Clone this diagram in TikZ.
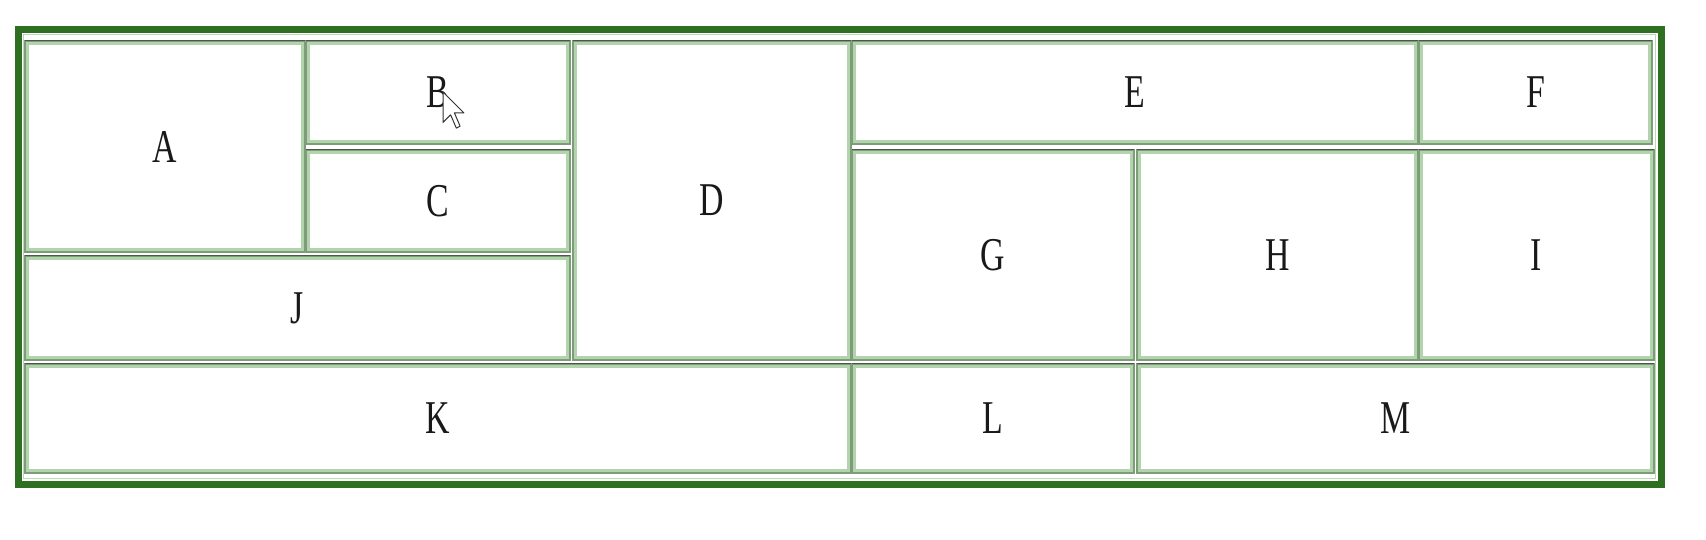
\documentclass[tikz,border=0pt]{standalone}
\usepackage{fontspec}
\usepackage{graphicx}
\setmainfont{Liberation Serif}
\definecolor{outergreen}{HTML}{2F6F22}
\definecolor{halogreen}{HTML}{B9DDB2}
\definecolor{cellgreen}{HTML}{B2D4AD}
\definecolor{cellmid}{HTML}{7E9C7A}
\definecolor{celldark}{HTML}{4F544F}
\tikzset{
  cell/.style={draw=cellgreen, line width=4pt, fill=white, inner sep=0pt,
    font=\fontsize{47}{47}\selectfont, text=black!90},
  midline/.style={draw=cellmid, line width=1.1pt},
  topedge/.style={draw=celldark, line width=1.5pt},
  frame/.style={draw=outergreen, line width=7pt},
  halo/.style={draw=halogreen, line width=1.2pt}
}
\newcommand{\lbl}[1]{\scalebox{0.72}[1]{#1}}
\begin{document}
\begin{tikzpicture}[x=1pt,y=-1pt]
\useasboundingbox[fill=white] (0,0) rectangle (1706,540);
\draw[frame] (18.5,29.5) rectangle (1661,484);
\draw[halo] (23.5,34.5) rectangle (1655.5,478.5);
% cells
\node[cell, minimum width=276pt, minimum height=207pt] (A) at (165,146.5) {\lbl{A}};
\node[cell, minimum width=260pt, minimum height=99pt] (B) at (438,92.5) {\lbl{B}};
\node[cell, minimum width=260pt, minimum height=98pt] (C) at (438,201) {\lbl{C}};
\node[cell, minimum width=541pt, minimum height=100pt] (J) at (297.5,308) {\lbl{J}};
\node[cell, minimum width=274pt, minimum height=315pt] (D) at (712,200.5) {\lbl{D}};
\node[cell, minimum width=562pt, minimum height=99pt] (E) at (1135,92.5) {\lbl{E}};
\node[cell, minimum width=229pt, minimum height=99pt] (F) at (1535.5,92.5) {\lbl{F}};
\node[cell, minimum width=278pt, minimum height=206pt] (G) at (993,255) {\lbl{G}};
\node[cell, minimum width=277pt, minimum height=206pt] (H) at (1277.5,255) {\lbl{H}};
\node[cell, minimum width=231pt, minimum height=206pt] (I) at (1536.5,255) {\lbl{I}};
\node[cell, minimum width=822pt, minimum height=105pt] (K) at (438,418.5) {\lbl{K}};
\node[cell, minimum width=278pt, minimum height=105pt] (L) at (993,418.5) {\lbl{L}};
\node[cell, minimum width=513pt, minimum height=105pt] (M) at (1395.5,418.5) {\lbl{M}};
% inner gray-green line and darker top edge of every cell
\foreach \n in {A,B,C,J,D,E,F,G,H,I,K,L,M}{
  \draw[midline] (\n.north west) rectangle (\n.south east);
  \draw[topedge] ([yshift=0.5pt]\n.north west) -- ([yshift=0.5pt]\n.north east);
}
% mouse pointer over B
\draw[fill=white, draw=black!80, line width=1pt, line join=round]
  (443,92) -- (443,122.4) -- (450.6,114.8) -- (456.3,128.1) -- (460.1,126.2)
  -- (454.4,112.9) -- (463.9,112.9) -- cycle;
\end{tikzpicture}
\end{document}
